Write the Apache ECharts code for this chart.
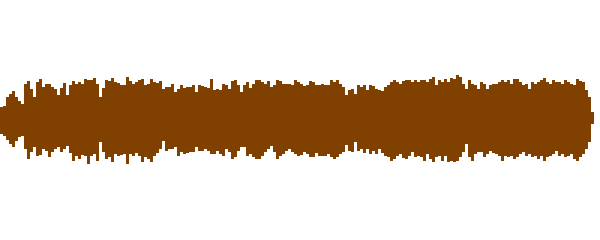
<!DOCTYPE html>
<html>
<head>
<meta charset="utf-8">
<style>
html,body{margin:0;padding:0;background:#fff;}
#chart{width:600px;height:240px;}
</style>
<script src="https://cdn.jsdelivr.net/npm/echarts@6/dist/echarts.min.js"></script>
</head>
<body>
<div id="chart"></div>
<script>
// Waveform envelope: one sample per ~3 px column
const peakUp = [
  12,13,22,25,28,22,18,15,35,38,30,22,37,40,32,35,35,32,30,24,31,36,24,34,38,35,37,35,40,39,39,41,35,
  22,31,39,38,41,37,36,34,34,42,38,35,37,39,40,34,35,40,37,36,38,30,32,32,35,27,30,34,31,32,32,34,27,
  34,33,32,31,40,29,30,29,35,34,30,38,39,34,27,34,37,31,35,39,39,37,35,38,32,34,39,38,35,35,35,34,39,
  37,35,33,34,38,37,34,34,35,34,34,39,37,39,35,32,24,29,30,25,34,32,34,29,34,33,30,29,28,32,34,37,39,
  37,35,38,39,39,37,39,37,39,39,37,40,42,34,39,37,40,37,41,40,44,42,35,30,39,35,34,30,37,35,30,34,35,
  35,37,39,37,39,35,40,40,37,34,35,30,37,35,37,39,41,37,35,39,37,37,35,39,37,35,34,40,38,37,29,22,7,0
];
const peakDown = [
  15,17,21,25,28,22,18,17,30,40,33,28,37,36,30,32,38,33,30,28,33,30,27,34,42,37,40,36,37,45,37,35,42,
  23,33,40,38,43,35,37,36,35,45,35,37,34,37,43,38,40,43,37,34,30,22,32,30,30,28,37,33,35,34,33,33,28,
  32,32,30,32,35,35,32,35,37,30,33,40,38,32,28,28,37,35,38,40,40,37,33,30,27,33,40,37,35,32,30,33,35,
  37,36,33,35,38,38,34,37,37,37,35,38,40,38,35,33,26,32,33,23,32,30,34,30,35,32,35,30,34,37,38,42,40,
  37,35,39,40,37,33,38,37,38,42,35,40,43,38,37,42,37,43,42,43,42,38,33,25,38,42,35,33,33,38,35,32,34,
  35,37,42,37,38,37,40,38,35,33,37,35,38,37,40,37,42,38,37,35,32,37,35,38,37,35,40,42,38,35,30,23,5,0
];
const samples = peakUp.map((_, i) => i);

const chart = echarts.init(document.getElementById('chart'), null, {renderer: 'canvas'});
const color = '#804000';
chart.setOption({
  animation: false,
  backgroundColor: '#ffffff',
  grid: {left: 0, top: 0, width: 597, height: 240, containLabel: false},
  xAxis: {
    type: 'category', data: samples, show: false,
    boundaryGap: true
  },
  yAxis: {
    type: 'value', min: -121, max: 119, show: false
  },
  series: [
    {
      type: 'bar', data: peakUp, barGap: '-100%', barCategoryGap: '0%',
      itemStyle: {color: color}, silent: true
    },
    {
      type: 'bar', data: peakDown.map(v => -v), barGap: '-100%', barCategoryGap: '0%',
      itemStyle: {color: color}, silent: true
    }
  ]
});
</script>
</body>
</html>
